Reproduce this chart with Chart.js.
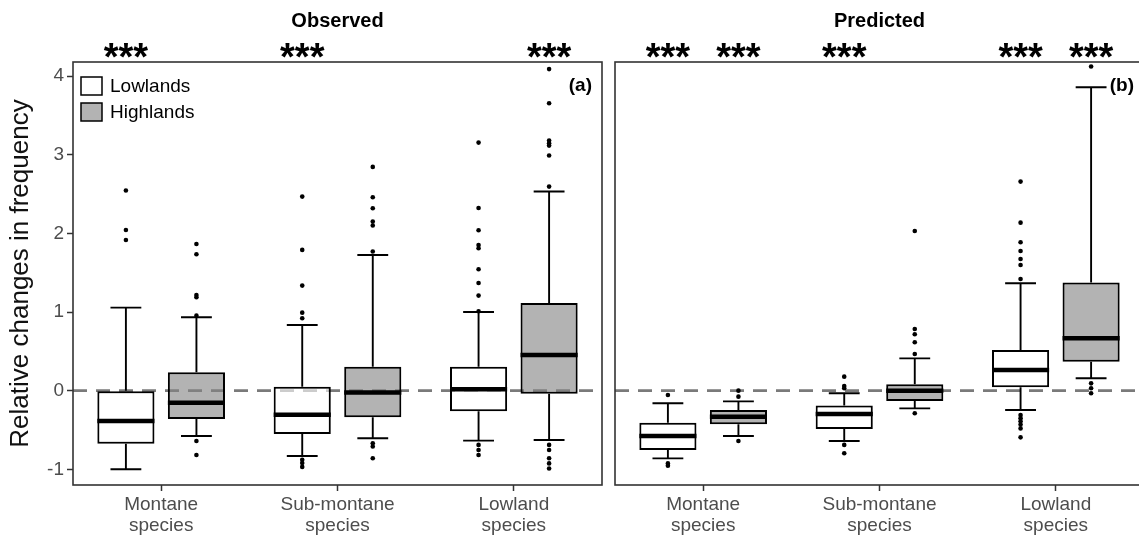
<!DOCTYPE html>
<html>
<head>
<meta charset="utf-8">
<script src="https://cdn.jsdelivr.net/npm/chart.js@4.4.1/dist/chart.umd.min.js"></script>
<style>
  html, body { margin: 0; padding: 0; background: #fff; width: 1139px; height: 540px; overflow: hidden; }
  canvas { position: absolute; top: 0; }
  #obs { left: 0; }
  #pred { left: 608px; }
</style>
</head>
<body>
<canvas id="obs" width="608" height="540"></canvas>
<canvas id="pred" width="540" height="540"></canvas>
<script>
const categories = [['Montane', 'species'], ['Sub-montane', 'species'], ['Lowland', 'species']];
const groups = ['Lowlands', 'Highlands'];

// Observed - Lowlands
const obsLowQ1 = [-0.674, -0.551, -0.263];
const obsLowMed = [-0.386, -0.305, 0.017];
const obsLowQ3 = [0.0, 0.051, 0.305];
const obsLowMin = [-1.0, -0.831, -0.636];
const obsLowMax = [1.056, 0.835, 1.0];
const obsLowOut = [
  [2.545, 2.044, 1.917],
  [2.468, 1.79, 1.336, 0.992, 0.92, -0.88, -0.92, -0.97],
  [3.155, 2.324, 2.04, 1.853, 1.811, 1.544, 1.37, 1.209, 1.01, -0.69, -0.755, -0.818]
];
// Observed - Highlands
const obsHighQ1 = [-0.36, -0.339, -0.038];
const obsHighMed = [-0.153, -0.025, 0.454];
const obsHighQ3 = [0.233, 0.305, 1.115];
const obsHighMin = [-0.577, -0.606, -0.628];
const obsHighMax = [0.933, 1.726, 2.532];
const obsHighOut = [
  [1.866, 1.735, 1.217, 1.187, 0.954, -0.64, -0.818],
  [2.846, 2.46, 2.32, 2.15, 2.1, 1.77, -0.67, -0.71, -0.86],
  [4.09, 3.656, 3.18, 3.147, 3.117, 2.99, 2.595, -0.69, -0.755, -0.86, -0.925, -0.99]
];
// Predicted - Lowlands
const predLowQ1 = [-0.755, -0.488, 0.042];
const predLowMed = [-0.577, -0.297, 0.263];
const predLowQ3 = [-0.407, -0.19, 0.517];
const predLowMin = [-0.861, -0.64, -0.246];
const predLowMax = [-0.161, -0.034, 1.366];
const predLowOut = [
  [-0.055, -0.925, -0.954],
  [0.178, 0.06, 0.03, -0.69, -0.797],
  [2.659, 2.137, 1.887, 1.777, 1.675, 1.599, 1.42, -0.31, -0.35, -0.39, -0.43, -0.48, -0.594]
];
// Predicted - Highlands
const predHighQ1 = [-0.428, -0.131, 0.369];
const predHighMed = [-0.331, 0.0, 0.666];
const predHighQ3 = [-0.246, 0.081, 1.374];
const predHighMin = [-0.577, -0.225, 0.157];
const predHighMax = [-0.136, 0.411, 3.859];
const predHighOut = [
  [0.0, -0.076, -0.64],
  [2.031, 0.785, 0.717, 0.615, 0.466, -0.288],
  [4.122, 0.093, 0.03, -0.034]
];

// significance marks above each box
const obsStarsLow = ['***', '***', ''];
const obsStarsHigh = ['', '', '***'];
const predStarsLow = ['***', '***', '***'];
const predStarsHigh = ['***', '', '***'];

const yTicks = [-1, 0, 1, 2, 3, 4];

const FONT = "'Liberation Sans', Arial, sans-serif";
const lowFill = 'rgba(255,255,255,0.62)';
const highFill = 'rgba(132,132,132,0.62)';

function boxPlugin(p) {
  return {
    id: 'boxExtras',
    beforeDatasetsDraw(chart) {
      const { ctx, chartArea } = chart;
      const y0 = chart.scales.y.getPixelForValue(0);
      ctx.save();
      ctx.strokeStyle = '#7a7a7a';
      ctx.lineWidth = 2.8;
      ctx.setLineDash([14, 9]);
      ctx.beginPath();
      ctx.moveTo(chartArea.left, y0);
      ctx.lineTo(chartArea.right, y0);
      ctx.stroke();
      ctx.restore();
    },
    afterDatasetsDraw(chart) {
      const { ctx, chartArea } = chart;
      const ys = chart.scales.y;
      ctx.save();
      p.stats.forEach((s, g) => {
        chart.getDatasetMeta(g).data.forEach((bar, i) => {
          const x = bar.x, w = bar.width;
          const cap = w * 0.27;
          ctx.strokeStyle = '#000';
          ctx.lineWidth = 1.9;
          ctx.beginPath();
          ctx.moveTo(x, ys.getPixelForValue(s.q3[i]));
          ctx.lineTo(x, ys.getPixelForValue(s.max[i]));
          ctx.moveTo(x, ys.getPixelForValue(s.q1[i]));
          ctx.lineTo(x, ys.getPixelForValue(s.min[i]));
          ctx.moveTo(x - cap, ys.getPixelForValue(s.max[i]));
          ctx.lineTo(x + cap, ys.getPixelForValue(s.max[i]));
          ctx.moveTo(x - cap, ys.getPixelForValue(s.min[i]));
          ctx.lineTo(x + cap, ys.getPixelForValue(s.min[i]));
          ctx.stroke();
          ctx.lineWidth = 4.5;
          ctx.beginPath();
          ctx.moveTo(x - w / 2, ys.getPixelForValue(s.med[i]));
          ctx.lineTo(x + w / 2, ys.getPixelForValue(s.med[i]));
          ctx.stroke();
          // outliers
          ctx.fillStyle = '#000';
          s.out[i].forEach(v => {
            ctx.beginPath();
            ctx.arc(x, ys.getPixelForValue(v), 2.3, 0, Math.PI * 2);
            ctx.fill();
          });
        });
      });
      ctx.strokeStyle = '#333';
      ctx.lineWidth = 1.6;
      ctx.strokeRect(chartArea.left, chartArea.top, chartArea.right - chartArea.left, chartArea.bottom - chartArea.top);
      ctx.restore();
    },
    afterDraw(chart) {
      const { ctx, chartArea } = chart;
      ctx.save();
      ctx.fillStyle = '#000';
      // panel title
      ctx.font = 'bold 20px ' + FONT;
      ctx.textAlign = 'center';
      ctx.textBaseline = 'alphabetic';
      ctx.fillText(p.title, (chartArea.left + chartArea.right) / 2, 27);
      // stars
      ctx.font = 'bold 38px ' + FONT;
      p.stars.forEach((row, g) => {
        chart.getDatasetMeta(g).data.forEach((bar, i) => {
          if (row[i]) ctx.fillText(row[i], bar.x, 70);
        });
      });
      // panel tag
      ctx.font = 'bold 19px ' + FONT;
      ctx.textAlign = 'right';
      ctx.fillText(p.tag, chartArea.right - 10, 91);
      // legend
      if (p.legend) {
        ctx.textAlign = 'left';
        ctx.textBaseline = 'middle';
        ctx.font = '19px ' + FONT;
        chart.data.datasets.forEach((ds, k) => {
          const top = 77 + k * 26;
          ctx.fillStyle = k === 0 ? '#ffffff' : '#b3b3b3';
          ctx.fillRect(81, top, 21, 18);
          ctx.strokeStyle = '#000';
          ctx.lineWidth = 1.5;
          ctx.strokeRect(81, top, 21, 18);
          ctx.fillStyle = '#000';
          ctx.fillText(ds.label, 110, top + 9.5);
        });
      }
      // y title
      if (p.yTitle) {
        ctx.translate(21, (chartArea.top + chartArea.bottom) / 2);
        ctx.rotate(-Math.PI / 2);
        ctx.textAlign = 'center';
        ctx.textBaseline = 'middle';
        ctx.font = '26px ' + FONT;
        ctx.fillStyle = '#111';
        ctx.fillText(p.yTitle, 0, 0);
      }
      ctx.restore();
    }
  };
}

function buildChart(id, p) {
  const ctx = document.getElementById(id).getContext('2d');
  const datasets = [
    {
      label: groups[0],
      data: p.stats[0].q1.map((v, i) => [v, p.stats[0].q3[i]]),
      backgroundColor: lowFill, borderColor: '#000', borderWidth: 2, borderSkipped: false,
      categoryPercentage: 0.8, barPercentage: 0.81
    },
    {
      label: groups[1],
      data: p.stats[1].q1.map((v, i) => [v, p.stats[1].q3[i]]),
      backgroundColor: highFill, borderColor: '#000', borderWidth: 2, borderSkipped: false,
      categoryPercentage: 0.8, barPercentage: 0.81
    }
  ];

  const config = {
    type: 'bar',
    data: { labels: categories, datasets: datasets },
    options: {
      responsive: false,
      animation: false,
      events: [],
      layout: { padding: p.padding },
      plugins: {
        legend: { display: false },
        tooltip: { enabled: false }
      },
      scales: {
        x: {
          type: 'category',
          offset: true,
          grid: { offset: false, drawOnChartArea: false, drawTicks: true, tickLength: 6, color: '#333', tickWidth: 1.5 },
          border: { display: false },
          ticks: { color: '#4d4d4d', padding: 3, maxRotation: 0, font: { family: FONT, size: 19, lineHeight: 1.12 } },
          afterFit(scale) { scale.height = 55; }
        },
        y: {
          type: 'linear',
          min: -1.2,
          max: 4.18,
          display: p.showY,
          afterBuildTicks(scale) { scale.ticks = yTicks.map(v => ({ value: v })); },
          grid: { drawOnChartArea: false, drawTicks: true, tickLength: 6, color: '#333', tickWidth: 1.5 },
          border: { display: false },
          ticks: { color: '#4d4d4d', padding: 3, font: { family: FONT, size: 19 } },
          afterFit(scale) { scale.width = p.showY ? 73 : 0; }
        }
      }
    },
    plugins: [boxPlugin(p)]
  };
  return new Chart(ctx, config);
}

buildChart('obs', {
  title: 'Observed', tag: '(a)', legend: true, yTitle: 'Relative changes in frequency', showY: true,
  padding: { left: 0, right: 6, top: 62, bottom: 0 },
  stars: [obsStarsLow, obsStarsHigh],
  stats: [
    { q1: obsLowQ1, med: obsLowMed, q3: obsLowQ3, min: obsLowMin, max: obsLowMax, out: obsLowOut },
    { q1: obsHighQ1, med: obsHighMed, q3: obsHighQ3, min: obsHighMin, max: obsHighMax, out: obsHighOut }
  ]
});

buildChart('pred', {
  title: 'Predicted', tag: '(b)', legend: false, yTitle: null, showY: false,
  padding: { left: 7, right: 4, top: 62, bottom: 0 },
  stars: [predStarsLow, predStarsHigh],
  stats: [
    { q1: predLowQ1, med: predLowMed, q3: predLowQ3, min: predLowMin, max: predLowMax, out: predLowOut },
    { q1: predHighQ1, med: predHighMed, q3: predHighQ3, min: predHighMin, max: predHighMax, out: predHighOut }
  ]
});
</script>
</body>
</html>
